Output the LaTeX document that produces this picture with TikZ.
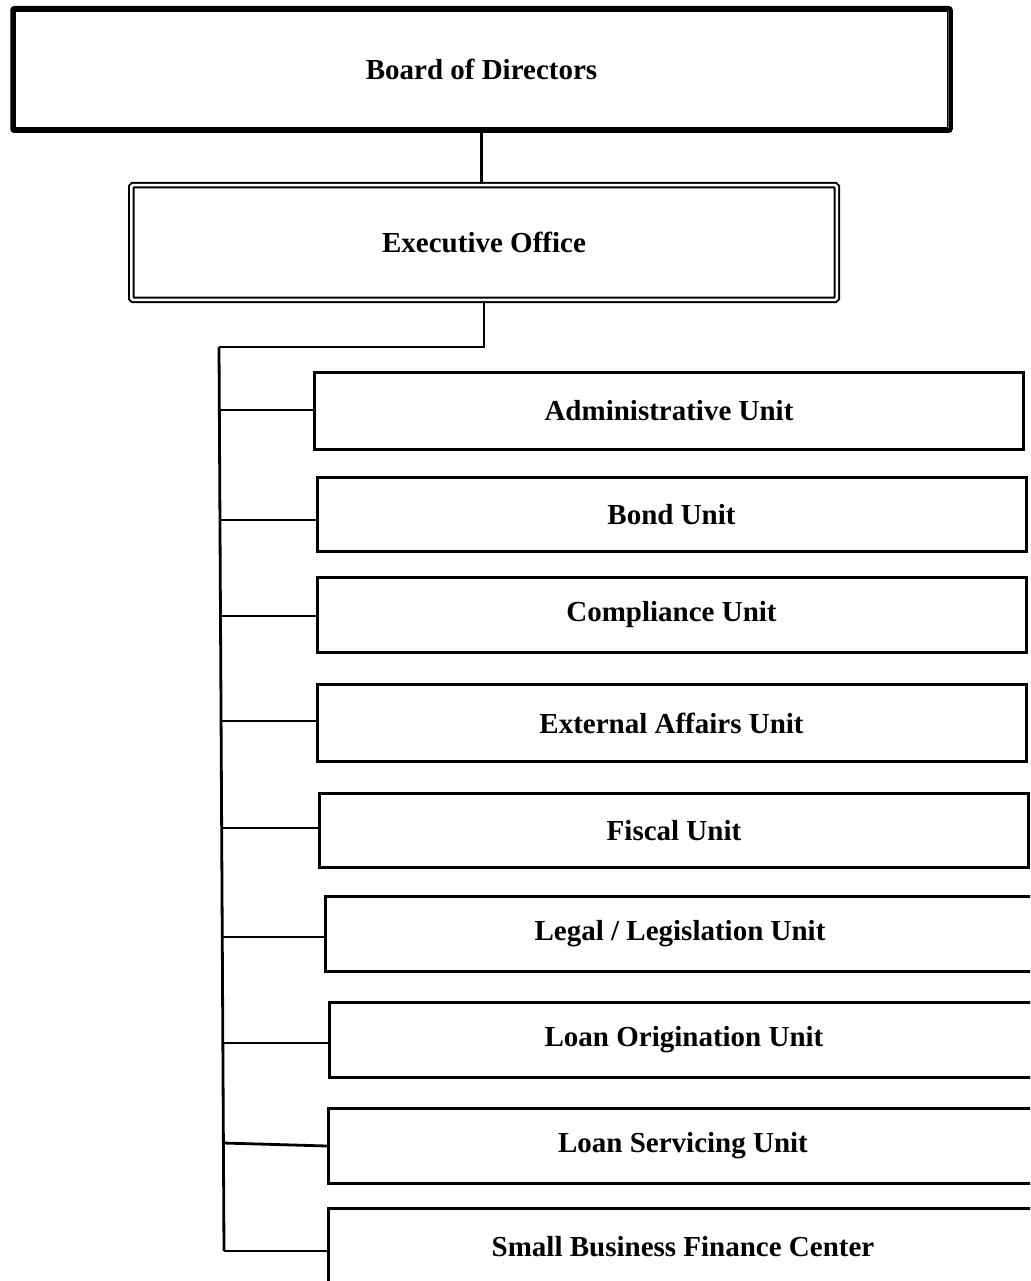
\documentclass[tikz,border=0pt]{standalone}
\usepackage{fontspec}
\setmainfont{Liberation Serif}
\tikzset{
  boxtext/.style={font=\fontsize{29}{34}\selectfont\bfseries, inner sep=0pt},
  boardbox/.style={boxtext, draw, line width=4.5pt, rounded corners=2pt, minimum width=938pt, minimum height=122.5pt},
  execbox/.style={boxtext, draw, double, double distance=2.5pt, line width=2pt, rounded corners=1.5pt, minimum width=705.5pt, minimum height=114.5pt},
  unitbox/.style={boxtext, draw, line width=3pt, minimum width=709pt, minimum height=77pt},
  link/.style={line width=2.8pt}
}
\begin{document}
\begin{tikzpicture}[x=1pt,y=-1pt]
\useasboundingbox (0,0) rectangle (1030,1281);
\clip (0,0) rectangle (1030,1281);
\fill[white] (0,0) rectangle (1030,1281);
% top of the chart
\node[boardbox] (board) at (481.5,69.5) {Board of Directors};
\draw[line width=1.3pt] ([xshift=5pt,yshift=-5pt]board.north west) rectangle ([xshift=-5pt,yshift=5pt]board.south east);
\node[execbox] (exec) at (484,242.5) {Executive Office};
% units
\node[unitbox] (admin) at (669,411) {Administrative Unit};
\node[unitbox,minimum height=74pt] (bond) at (671.5,514.5) {Bond Unit};
\node[unitbox,minimum height=75pt] (compl) at (671.5,615) {Compliance Unit};
\node[unitbox] (extern) at (671.5,723) {External Affairs Unit};
\node[unitbox,minimum height=74pt] (fiscal) at (674,830.5) {Fiscal Unit};
\node[unitbox,minimum height=75pt] (legal) at (680,934) {Legal / Legislation Unit};
\node[unitbox,minimum height=75pt] (orig) at (684,1040) {Loan Origination Unit};
\node[unitbox,minimum height=75pt] (serv) at (683,1146) {Loan Servicing Unit};
\node[unitbox] (small) at (683,1247) {Small Business Finance Center};
% trunk
\coordinate (top) at (219,347);
\coordinate (bot) at (224,1251);
\coordinate (b1) at (219.3,410);
\coordinate (b2) at (220,520);
\coordinate (b3) at (220.5,616);
\coordinate (b4) at (221.1,721);
\coordinate (b5) at (221.7,828);
\coordinate (b6) at (222.3,937);
\coordinate (b7) at (222.8,1043);
\coordinate (b8) at (223.4,1143);
\draw[link] (board.south) -- (board.south |- exec.north);
\draw[link] (exec.south) |- (top);
\draw[link] (top) -- (bot);
\draw[link] (b1) -- (b1 -| admin.west);
\draw[link] (b2) -- (b2 -| bond.west);
\draw[link] (b3) -- (b3 -| compl.west);
\draw[link] (b4) -- (b4 -| extern.west);
\draw[link] (b5) -- (b5 -| fiscal.west);
\draw[link] (b6) -- (b6 -| legal.west);
\draw[link] (b7) -- (b7 -| orig.west);
\draw[link] (b8) -- ([yshift=-3pt]b8 -| serv.west);
\draw[link] (bot) -- (bot -| small.west);
\end{tikzpicture}
\end{document}
